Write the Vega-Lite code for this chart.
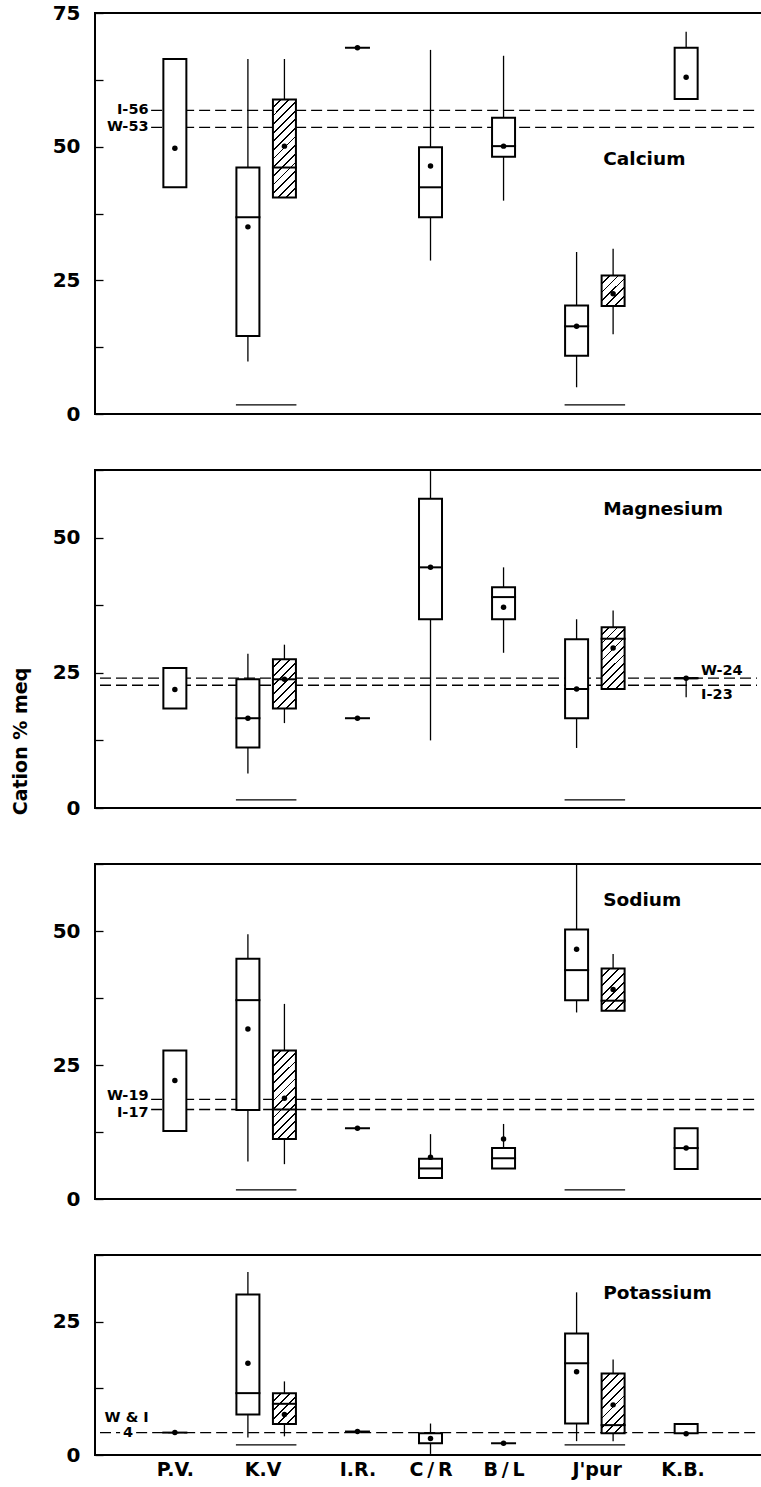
{
"$schema": "https://vega.github.io/schema/vega-lite/v6.json",
"padding": {"left": 10, "top": 2, "right": 0, "bottom": 0},
"background": "white",
"spacing": 34,
"resolve": {"scale": {"x": "independent", "y": "independent"}},
"config": {
  "view": {"stroke": "black", "strokeWidth": 2},
  "axis": {"labelFont": "DejaVu Sans", "labelFontWeight": "bold", "labelColor": "black", "tickColor": "black", "domain": false, "grid": false, "titleFont": "DejaVu Sans", "titleFontWeight": "bold", "titleColor": "black"},
  "text": {"font": "DejaVu Sans", "fontWeight": "bold", "color": "black"}
},
"datasets": {
  "boxes": [
    {"ion":"Calcium","site":"P.V.","slot":0,"grp":"p","lo":null,"q1":42.4,"med":null,"q3":66.4,"hi":null,"mean":49.7},
    {"ion":"Calcium","site":"K.V","slot":2,"grp":"p","lo":9.8,"q1":14.6,"med":36.8,"q3":46.1,"hi":66.4,"mean":35.0},
    {"ion":"Calcium","site":"K.V","slot":3,"grp":"h","lo":null,"q1":40.5,"med":46.1,"q3":58.8,"hi":66.4,"mean":50.1},
    {"ion":"Calcium","site":"I.R.","slot":5,"grp":"p","lo":null,"q1":null,"med":68.5,"q3":null,"hi":null,"mean":68.5},
    {"ion":"Calcium","site":"C/R","slot":7,"grp":"p","lo":28.7,"q1":36.8,"med":42.4,"q3":49.9,"hi":68.1,"mean":46.4},
    {"ion":"Calcium","site":"B/L","slot":9,"grp":"p","lo":39.9,"q1":48.1,"med":50.1,"q3":55.4,"hi":67.0,"mean":50.1},
    {"ion":"Calcium","site":"J'pur","slot":11,"grp":"p","lo":5.0,"q1":10.9,"med":16.4,"q3":20.3,"hi":30.3,"mean":16.4},
    {"ion":"Calcium","site":"J'pur","slot":12,"grp":"h","lo":14.9,"q1":20.2,"med":null,"q3":25.9,"hi":30.9,"mean":22.5},
    {"ion":"Calcium","site":"K.B.","slot":14,"grp":"p","lo":null,"q1":58.9,"med":null,"q3":68.5,"hi":71.5,"mean":63.0},

    {"ion":"Magnesium","site":"P.V.","slot":0,"grp":"p","lo":null,"q1":18.4,"med":null,"q3":25.9,"hi":null,"mean":21.9},
    {"ion":"Magnesium","site":"K.V","slot":2,"grp":"p","lo":6.4,"q1":11.2,"med":16.6,"q3":23.8,"hi":28.5,"mean":16.6},
    {"ion":"Magnesium","site":"K.V","slot":3,"grp":"h","lo":15.7,"q1":18.4,"med":23.8,"q3":27.5,"hi":30.2,"mean":23.8},
    {"ion":"Magnesium","site":"I.R.","slot":5,"grp":"p","lo":null,"q1":null,"med":16.6,"q3":null,"hi":null,"mean":16.6},
    {"ion":"Magnesium","site":"C/R","slot":7,"grp":"p","lo":12.5,"q1":34.9,"med":44.5,"q3":57.2,"hi":62.3,"mean":44.5},
    {"ion":"Magnesium","site":"B/L","slot":9,"grp":"p","lo":28.7,"q1":34.9,"med":39.0,"q3":40.8,"hi":44.5,"mean":37.1},
    {"ion":"Magnesium","site":"J'pur","slot":11,"grp":"p","lo":11.1,"q1":16.6,"med":22.0,"q3":31.2,"hi":34.9,"mean":22.0},
    {"ion":"Magnesium","site":"J'pur","slot":12,"grp":"h","lo":null,"q1":22.0,"med":31.3,"q3":33.4,"hi":36.5,"mean":29.6},
    {"ion":"Magnesium","site":"K.B.","slot":14,"grp":"p","lo":20.5,"q1":24.0,"med":24.0,"q3":24.0,"hi":null,"mean":24.0},

    {"ion":"Sodium","site":"P.V.","slot":0,"grp":"p","lo":null,"q1":12.7,"med":null,"q3":27.7,"hi":null,"mean":22.1},
    {"ion":"Sodium","site":"K.V","slot":2,"grp":"p","lo":7.0,"q1":16.6,"med":37.1,"q3":44.8,"hi":49.4,"mean":31.7},
    {"ion":"Sodium","site":"K.V","slot":3,"grp":"h","lo":6.5,"q1":11.2,"med":16.7,"q3":27.7,"hi":36.4,"mean":18.8},
    {"ion":"Sodium","site":"I.R.","slot":5,"grp":"p","lo":null,"q1":null,"med":13.2,"q3":null,"hi":null,"mean":13.2},
    {"ion":"Sodium","site":"C/R","slot":7,"grp":"p","lo":null,"q1":3.9,"med":5.7,"q3":7.5,"hi":12.1,"mean":7.8},
    {"ion":"Sodium","site":"B/L","slot":9,"grp":"p","lo":null,"q1":5.7,"med":7.6,"q3":9.5,"hi":14.0,"mean":11.2},
    {"ion":"Sodium","site":"J'pur","slot":11,"grp":"p","lo":34.8,"q1":37.1,"med":42.7,"q3":50.3,"hi":62.5,"mean":46.6},
    {"ion":"Sodium","site":"J'pur","slot":12,"grp":"h","lo":null,"q1":35.1,"med":37.0,"q3":43.0,"hi":45.7,"mean":39.1},
    {"ion":"Sodium","site":"K.B.","slot":14,"grp":"p","lo":null,"q1":5.6,"med":9.5,"q3":13.2,"hi":null,"mean":9.5},

    {"ion":"Potassium","site":"P.V.","slot":0,"grp":"p","lo":null,"q1":null,"med":4.2,"q3":null,"hi":null,"mean":4.2},
    {"ion":"Potassium","site":"K.V","slot":2,"grp":"p","lo":3.3,"q1":7.6,"med":11.6,"q3":30.1,"hi":34.3,"mean":17.2},
    {"ion":"Potassium","site":"K.V","slot":3,"grp":"h","lo":3.5,"q1":5.8,"med":9.6,"q3":11.6,"hi":13.8,"mean":7.6},
    {"ion":"Potassium","site":"I.R.","slot":5,"grp":"p","lo":null,"q1":null,"med":4.4,"q3":null,"hi":null,"mean":4.4},
    {"ion":"Potassium","site":"C/R","slot":7,"grp":"p","lo":0.2,"q1":2.2,"med":null,"q3":4.1,"hi":5.9,"mean":3.1},
    {"ion":"Potassium","site":"B/L","slot":9,"grp":"p","lo":null,"q1":null,"med":2.2,"q3":null,"hi":null,"mean":2.2},
    {"ion":"Potassium","site":"J'pur","slot":11,"grp":"p","lo":2.6,"q1":5.9,"med":17.2,"q3":22.8,"hi":30.5,"mean":15.6},
    {"ion":"Potassium","site":"J'pur","slot":12,"grp":"h","lo":2.6,"q1":4.1,"med":5.6,"q3":15.3,"hi":17.9,"mean":9.4},
    {"ion":"Potassium","site":"K.B.","slot":14,"grp":"p","lo":null,"q1":4.1,"med":null,"q3":5.8,"hi":null,"mean":4.0}
  ],
  "refs": [
    {"ion":"Calcium","name":"I-56","value":56.8,"pos":"on"},
    {"ion":"Calcium","name":"W-53","value":53.6,"pos":"on"},
    {"ion":"Magnesium","name":"W-24","value":24.0,"pos":"above"},
    {"ion":"Magnesium","name":"I-23","value":22.7,"pos":"below"},
    {"ion":"Sodium","name":"W-19","value":18.6,"pos":"above"},
    {"ion":"Sodium","name":"I-17","value":16.7,"pos":"below"},
    {"ion":"Potassium","name":"4","value":4.2,"pos":"on"},
    {"ion":"Potassium","name":"W & I","value":4.2,"pos":"above"}
  ],
  "panels": [
    {"ion":"Calcium"},{"ion":"Magnesium"},{"ion":"Sodium"},{"ion":"Potassium"}
  ]
},
"vconcat": [
{
  "width": 667, "height": 401,
  "layer": [
    {"data":{"name":"refs"},"transform":[{"filter":"datum.ion==='Calcium'"}],
     "mark":{"type":"rule","strokeDash":[11,5],"strokeWidth":1.3,"color":"black"},
     "encoding":{"x":{"datum":-0.65,"type":"quantitative","scale":{"domain":[-2.05,15.94],"nice":false,"zero":false},"axis":null},"x2":{"datum":15.94},
       "y":{"field":"value","type":"quantitative","scale":{"domain":[0,75],"nice":false,"zero":false},
            "axis":{"values":[0,12.5,25,37.5,50,62.5,75],"labelExpr":"datum.value % 25 === 0 ? datum.label : ''","title":null,"tickSize":-8,"tickWidth":1.3,"labelFontSize":20,"labelPadding":23,"labelFlush":false,"labelOverlap":false}}}},
    {"data":{"name":"boxes"},"transform":[{"filter":"datum.ion==='Calcium' && datum.hi != null && datum.q3 != null"}],
     "mark":{"type":"rule","strokeWidth":1.3,"color":"black"},
     "encoding":{"x":{"field":"slot","type":"quantitative","axis":null},"y":{"field":"q3","type":"quantitative"},"y2":{"field":"hi"}}},
    {"data":{"name":"boxes"},"transform":[{"filter":"datum.ion==='Calcium' && datum.lo != null && datum.q1 != null"}],
     "mark":{"type":"rule","strokeWidth":1.3,"color":"black"},
     "encoding":{"x":{"field":"slot","type":"quantitative","axis":null},"y":{"field":"lo","type":"quantitative"},"y2":{"field":"q1"}}},
    {"data":{"name":"boxes"},"transform":[{"filter":"datum.ion==='Calcium' && datum.q1 != null"}],
     "mark":{"type":"bar","width":23,"stroke":"black","strokeWidth":2},
     "encoding":{"x":{"field":"slot","type":"quantitative","axis":null},"y":{"field":"q1","type":"quantitative"},"y2":{"field":"q3"},
       "fill":{"condition":[
         {"test":"datum.slot===3","value":{"gradient":"linear","x1":0,"y1":0,"x2":0.2753,"y2":1.1705,"stops":[
{"offset":0,"color":"#fff"},{"offset":0.0564,"color":"#fff"},{"offset":0.0564,"color":"#000"},{"offset":0.0714,"color":"#000"},
{"offset":0.0714,"color":"#fff"},{"offset":0.1279,"color":"#fff"},{"offset":0.1279,"color":"#000"},{"offset":0.1429,"color":"#000"},
{"offset":0.1429,"color":"#fff"},{"offset":0.1993,"color":"#fff"},{"offset":0.1993,"color":"#000"},{"offset":0.2143,"color":"#000"},
{"offset":0.2143,"color":"#fff"},{"offset":0.2707,"color":"#fff"},{"offset":0.2707,"color":"#000"},{"offset":0.2857,"color":"#000"},
{"offset":0.2857,"color":"#fff"},{"offset":0.3421,"color":"#fff"},{"offset":0.3421,"color":"#000"},{"offset":0.3571,"color":"#000"},
{"offset":0.3571,"color":"#fff"},{"offset":0.4136,"color":"#fff"},{"offset":0.4136,"color":"#000"},{"offset":0.4286,"color":"#000"},
{"offset":0.4286,"color":"#fff"},{"offset":0.485,"color":"#fff"},{"offset":0.485,"color":"#000"},{"offset":0.5,"color":"#000"},
{"offset":0.5,"color":"#fff"},{"offset":0.5564,"color":"#fff"},{"offset":0.5564,"color":"#000"},{"offset":0.5714,"color":"#000"},
{"offset":0.5714,"color":"#fff"},{"offset":0.6279,"color":"#fff"},{"offset":0.6279,"color":"#000"},{"offset":0.6429,"color":"#000"},
{"offset":0.6429,"color":"#fff"},{"offset":0.6993,"color":"#fff"},{"offset":0.6993,"color":"#000"},{"offset":0.7143,"color":"#000"},
{"offset":0.7143,"color":"#fff"},{"offset":0.7707,"color":"#fff"},{"offset":0.7707,"color":"#000"},{"offset":0.7857,"color":"#000"},
{"offset":0.7857,"color":"#fff"},{"offset":0.8421,"color":"#fff"},{"offset":0.8421,"color":"#000"},{"offset":0.8571,"color":"#000"},
{"offset":0.8571,"color":"#fff"},{"offset":0.9136,"color":"#fff"},{"offset":0.9136,"color":"#000"},{"offset":0.9286,"color":"#000"},
{"offset":0.9286,"color":"#fff"},{"offset":0.985,"color":"#fff"},{"offset":0.985,"color":"#000"},{"offset":1,"color":"#000"}]}},
         {"test":"datum.slot===12","value":{"gradient":"linear","x1":0,"y1":0,"x2":0.8432,"y2":1.1182,"stops":[
{"offset":0,"color":"#fff"},{"offset":0.1317,"color":"#fff"},{"offset":0.1317,"color":"#000"},{"offset":0.1667,"color":"#000"},
{"offset":0.1667,"color":"#fff"},{"offset":0.2983,"color":"#fff"},{"offset":0.2983,"color":"#000"},{"offset":0.3333,"color":"#000"},
{"offset":0.3333,"color":"#fff"},{"offset":0.465,"color":"#fff"},{"offset":0.465,"color":"#000"},{"offset":0.5,"color":"#000"},
{"offset":0.5,"color":"#fff"},{"offset":0.6317,"color":"#fff"},{"offset":0.6317,"color":"#000"},{"offset":0.6667,"color":"#000"},
{"offset":0.6667,"color":"#fff"},{"offset":0.7983,"color":"#fff"},{"offset":0.7983,"color":"#000"},{"offset":0.8333,"color":"#000"},
{"offset":0.8333,"color":"#fff"},{"offset":0.965,"color":"#fff"},{"offset":0.965,"color":"#000"},{"offset":1,"color":"#000"}]}}],
         "value":"white"}}},
    {"data":{"name":"boxes"},"transform":[{"filter":"datum.ion==='Calcium' && datum.med != null"}],
     "mark":{"type":"rule","strokeWidth":2,"color":"black","xOffset":-12.5,"x2Offset":12.5},
     "encoding":{"x":{"field":"slot","type":"quantitative","axis":null},"x2":{"field":"slot"},"y":{"field":"med","type":"quantitative"}}},
    {"data":{"name":"boxes"},"transform":[{"filter":"datum.ion==='Calcium' && datum.mean != null"}],
     "mark":{"type":"point","filled":true,"color":"black","size":30,"opacity":1},
     "encoding":{"x":{"field":"slot","type":"quantitative","axis":null},"y":{"field":"mean","type":"quantitative"}}},
    {"data":{"name":"boxes"},"transform":[{"filter":"datum.ion==='Calcium'"},{"aggregate":[{"op":"min","field":"slot","as":"s0"},{"op":"max","field":"slot","as":"s1"}],"groupby":["site"]},{"filter":"datum.s1 > datum.s0"}],
     "mark":{"type":"rule","strokeWidth":1.4,"color":"black","xOffset":-12,"x2Offset":12},
     "encoding":{"x":{"field":"s0","type":"quantitative","axis":null},"x2":{"field":"s1"},"y":{"datum":1.7}}},
    {"data":{"name":"refs"},"transform":[{"filter":"datum.ion==='Calcium'"}],
     "mark":{"type":"text","align":"right","baseline":"middle","fontSize":14.5},
     "encoding":{"x":{"datum":-0.72,"axis":null},"y":{"field":"value","type":"quantitative"},"text":{"field":"name"}}},
    {"data":{"name":"panels"},"transform":[{"filter":"datum.ion==='Calcium'"}],
     "mark":{"type":"text","align":"left","baseline":"middle","fontSize":18.5},
     "encoding":{"x":{"datum":11.73,"axis":null},"y":{"datum":47.7},"text":{"field":"ion"}}}
  ]
},
{
  "width": 667, "height": 338,
  "layer": [
    {"data":{"name":"refs"},"transform":[{"filter":"datum.ion==='Magnesium'"}],
     "mark":{"type":"rule","strokeDash":[11,5],"strokeWidth":1.3,"color":"black"},
     "encoding":{"x":{"datum":-2.05,"type":"quantitative","scale":{"domain":[-2.05,15.94],"nice":false,"zero":false},"axis":null},"x2":{"datum":15.94},
       "y":{"field":"value","type":"quantitative","scale":{"domain":[0,62.5],"nice":false,"zero":false},
            "axis":{"values":[0,12.5,25,37.5,50,62.5],"labelExpr":"datum.value % 25 === 0 ? datum.label : ''","title":"Cation % meq","titleFontSize":19,"titleX":-75,"titleY":271,"titleAngle":270,"titleAlign":"center","titleBaseline":"middle","tickSize":-8,"tickWidth":1.3,"labelFontSize":20,"labelPadding":23,"labelFlush":false,"labelOverlap":false}}}},
    {"data":{"name":"boxes"},"transform":[{"filter":"datum.ion==='Magnesium' && datum.hi != null && datum.q3 != null"}],
     "mark":{"type":"rule","strokeWidth":1.3,"color":"black"},
     "encoding":{"x":{"field":"slot","type":"quantitative","axis":null},"y":{"field":"q3","type":"quantitative"},"y2":{"field":"hi"}}},
    {"data":{"name":"boxes"},"transform":[{"filter":"datum.ion==='Magnesium' && datum.lo != null && datum.q1 != null"}],
     "mark":{"type":"rule","strokeWidth":1.3,"color":"black"},
     "encoding":{"x":{"field":"slot","type":"quantitative","axis":null},"y":{"field":"lo","type":"quantitative"},"y2":{"field":"q1"}}},
    {"data":{"name":"boxes"},"transform":[{"filter":"datum.ion==='Magnesium' && datum.q1 != null"}],
     "mark":{"type":"bar","width":23,"stroke":"black","strokeWidth":2},
     "encoding":{"x":{"field":"slot","type":"quantitative","axis":null},"y":{"field":"q1","type":"quantitative"},"y2":{"field":"q3"},
       "fill":{"condition":[
         {"test":"datum.slot===3","value":{"gradient":"linear","x1":0,"y1":0,"x2":0.5597,"y2":1.2046,"stops":[
{"offset":0,"color":"#fff"},{"offset":0.0988,"color":"#fff"},{"offset":0.0988,"color":"#000"},{"offset":0.125,"color":"#000"},
{"offset":0.125,"color":"#fff"},{"offset":0.2238,"color":"#fff"},{"offset":0.2238,"color":"#000"},{"offset":0.25,"color":"#000"},
{"offset":0.25,"color":"#fff"},{"offset":0.3488,"color":"#fff"},{"offset":0.3488,"color":"#000"},{"offset":0.375,"color":"#000"},
{"offset":0.375,"color":"#fff"},{"offset":0.4738,"color":"#fff"},{"offset":0.4738,"color":"#000"},{"offset":0.5,"color":"#000"},
{"offset":0.5,"color":"#fff"},{"offset":0.5988,"color":"#fff"},{"offset":0.5988,"color":"#000"},{"offset":0.625,"color":"#000"},
{"offset":0.625,"color":"#fff"},{"offset":0.7238,"color":"#fff"},{"offset":0.7238,"color":"#000"},{"offset":0.75,"color":"#000"},
{"offset":0.75,"color":"#fff"},{"offset":0.8488,"color":"#fff"},{"offset":0.8488,"color":"#000"},{"offset":0.875,"color":"#000"},
{"offset":0.875,"color":"#fff"},{"offset":0.9738,"color":"#fff"},{"offset":0.9738,"color":"#000"},{"offset":1,"color":"#000"}]}},
         {"test":"datum.slot===12","value":{"gradient":"linear","x1":0,"y1":0,"x2":0.4471,"y2":1.2052,"stops":[
{"offset":0,"color":"#fff"},{"offset":0.079,"color":"#fff"},{"offset":0.079,"color":"#000"},{"offset":0.1,"color":"#000"},
{"offset":0.1,"color":"#fff"},{"offset":0.179,"color":"#fff"},{"offset":0.179,"color":"#000"},{"offset":0.2,"color":"#000"},
{"offset":0.2,"color":"#fff"},{"offset":0.279,"color":"#fff"},{"offset":0.279,"color":"#000"},{"offset":0.3,"color":"#000"},
{"offset":0.3,"color":"#fff"},{"offset":0.379,"color":"#fff"},{"offset":0.379,"color":"#000"},{"offset":0.4,"color":"#000"},
{"offset":0.4,"color":"#fff"},{"offset":0.479,"color":"#fff"},{"offset":0.479,"color":"#000"},{"offset":0.5,"color":"#000"},
{"offset":0.5,"color":"#fff"},{"offset":0.579,"color":"#fff"},{"offset":0.579,"color":"#000"},{"offset":0.6,"color":"#000"},
{"offset":0.6,"color":"#fff"},{"offset":0.679,"color":"#fff"},{"offset":0.679,"color":"#000"},{"offset":0.7,"color":"#000"},
{"offset":0.7,"color":"#fff"},{"offset":0.779,"color":"#fff"},{"offset":0.779,"color":"#000"},{"offset":0.8,"color":"#000"},
{"offset":0.8,"color":"#fff"},{"offset":0.879,"color":"#fff"},{"offset":0.879,"color":"#000"},{"offset":0.9,"color":"#000"},
{"offset":0.9,"color":"#fff"},{"offset":0.979,"color":"#fff"},{"offset":0.979,"color":"#000"},{"offset":1,"color":"#000"}]}}],
         "value":"white"}}},
    {"data":{"name":"boxes"},"transform":[{"filter":"datum.ion==='Magnesium' && datum.med != null"}],
     "mark":{"type":"rule","strokeWidth":2,"color":"black","xOffset":-12.5,"x2Offset":12.5},
     "encoding":{"x":{"field":"slot","type":"quantitative","axis":null},"x2":{"field":"slot"},"y":{"field":"med","type":"quantitative"}}},
    {"data":{"name":"boxes"},"transform":[{"filter":"datum.ion==='Magnesium' && datum.mean != null"}],
     "mark":{"type":"point","filled":true,"color":"black","size":30,"opacity":1},
     "encoding":{"x":{"field":"slot","type":"quantitative","axis":null},"y":{"field":"mean","type":"quantitative"}}},
    {"data":{"name":"boxes"},"transform":[{"filter":"datum.ion==='Magnesium'"},{"aggregate":[{"op":"min","field":"slot","as":"s0"},{"op":"max","field":"slot","as":"s1"}],"groupby":["site"]},{"filter":"datum.s1 > datum.s0"}],
     "mark":{"type":"rule","strokeWidth":1.4,"color":"black","xOffset":-12,"x2Offset":12},
     "encoding":{"x":{"field":"s0","type":"quantitative","axis":null},"x2":{"field":"s1"},"y":{"datum":1.5}}},
    {"data":{"name":"refs"},"transform":[{"filter":"datum.ion==='Magnesium' && datum.pos==='above'"}],
     "mark":{"type":"text","align":"left","baseline":"bottom","fontSize":14.5},
     "encoding":{"x":{"datum":14.41,"axis":null},"y":{"field":"value","type":"quantitative"},"text":{"field":"name"}}},
    {"data":{"name":"refs"},"transform":[{"filter":"datum.ion==='Magnesium' && datum.pos==='below'"}],
     "mark":{"type":"text","align":"left","baseline":"top","fontSize":14.5,"dy":3},
     "encoding":{"x":{"datum":14.41,"axis":null},"y":{"field":"value","type":"quantitative"},"text":{"field":"name"}}},
    {"data":{"name":"panels"},"transform":[{"filter":"datum.ion==='Magnesium'"}],
     "mark":{"type":"text","align":"left","baseline":"middle","fontSize":18.5},
     "encoding":{"x":{"datum":11.73,"axis":null},"y":{"datum":55.3},"text":{"field":"ion"}}}
  ]
},
{
  "width": 667, "height": 335,
  "layer": [
    {"data":{"name":"refs"},"transform":[{"filter":"datum.ion==='Sodium'"}],
     "mark":{"type":"rule","strokeDash":[11,5],"strokeWidth":1.3,"color":"black"},
     "encoding":{"x":{"datum":-0.65,"type":"quantitative","scale":{"domain":[-2.05,15.94],"nice":false,"zero":false},"axis":null},"x2":{"datum":15.94},
       "y":{"field":"value","type":"quantitative","scale":{"domain":[0,62.5],"nice":false,"zero":false},
            "axis":{"values":[0,12.5,25,37.5,50,62.5],"labelExpr":"datum.value % 25 === 0 ? datum.label : ''","title":null,"tickSize":-8,"tickWidth":1.3,"labelFontSize":20,"labelPadding":23,"labelFlush":false,"labelOverlap":false}}}},
    {"data":{"name":"boxes"},"transform":[{"filter":"datum.ion==='Sodium' && datum.hi != null && datum.q3 != null"}],
     "mark":{"type":"rule","strokeWidth":1.3,"color":"black"},
     "encoding":{"x":{"field":"slot","type":"quantitative","axis":null},"y":{"field":"q3","type":"quantitative"},"y2":{"field":"hi"}}},
    {"data":{"name":"boxes"},"transform":[{"filter":"datum.ion==='Sodium' && datum.lo != null && datum.q1 != null"}],
     "mark":{"type":"rule","strokeWidth":1.3,"color":"black"},
     "encoding":{"x":{"field":"slot","type":"quantitative","axis":null},"y":{"field":"lo","type":"quantitative"},"y2":{"field":"q1"}}},
    {"data":{"name":"boxes"},"transform":[{"filter":"datum.ion==='Sodium' && datum.q1 != null"}],
     "mark":{"type":"bar","width":23,"stroke":"black","strokeWidth":2},
     "encoding":{"x":{"field":"slot","type":"quantitative","axis":null},"y":{"field":"q1","type":"quantitative"},"y2":{"field":"q3"},
       "fill":{"condition":[
         {"test":"datum.slot===3","value":{"gradient":"linear","x1":0,"y1":0,"x2":0.3048,"y2":1.1796,"stops":[
{"offset":0,"color":"#fff"},{"offset":0.0608,"color":"#fff"},{"offset":0.0608,"color":"#000"},{"offset":0.0769,"color":"#000"},
{"offset":0.0769,"color":"#fff"},{"offset":0.1377,"color":"#fff"},{"offset":0.1377,"color":"#000"},{"offset":0.1538,"color":"#000"},
{"offset":0.1538,"color":"#fff"},{"offset":0.2146,"color":"#fff"},{"offset":0.2146,"color":"#000"},{"offset":0.2308,"color":"#000"},
{"offset":0.2308,"color":"#fff"},{"offset":0.2915,"color":"#fff"},{"offset":0.2915,"color":"#000"},{"offset":0.3077,"color":"#000"},
{"offset":0.3077,"color":"#fff"},{"offset":0.3685,"color":"#fff"},{"offset":0.3685,"color":"#000"},{"offset":0.3846,"color":"#000"},
{"offset":0.3846,"color":"#fff"},{"offset":0.4454,"color":"#fff"},{"offset":0.4454,"color":"#000"},{"offset":0.4615,"color":"#000"},
{"offset":0.4615,"color":"#fff"},{"offset":0.5223,"color":"#fff"},{"offset":0.5223,"color":"#000"},{"offset":0.5385,"color":"#000"},
{"offset":0.5385,"color":"#fff"},{"offset":0.5992,"color":"#fff"},{"offset":0.5992,"color":"#000"},{"offset":0.6154,"color":"#000"},
{"offset":0.6154,"color":"#fff"},{"offset":0.6762,"color":"#fff"},{"offset":0.6762,"color":"#000"},{"offset":0.6923,"color":"#000"},
{"offset":0.6923,"color":"#fff"},{"offset":0.7531,"color":"#fff"},{"offset":0.7531,"color":"#000"},{"offset":0.7692,"color":"#000"},
{"offset":0.7692,"color":"#fff"},{"offset":0.83,"color":"#fff"},{"offset":0.83,"color":"#000"},{"offset":0.8462,"color":"#000"},
{"offset":0.8462,"color":"#fff"},{"offset":0.9069,"color":"#fff"},{"offset":0.9069,"color":"#000"},{"offset":0.9231,"color":"#000"},
{"offset":0.9231,"color":"#fff"},{"offset":0.9838,"color":"#fff"},{"offset":0.9838,"color":"#000"},{"offset":1,"color":"#000"}]}},
         {"test":"datum.slot===12","value":{"gradient":"linear","x1":0,"y1":0,"x2":0.6437,"y2":1.1923,"stops":[
{"offset":0,"color":"#fff"},{"offset":0.1129,"color":"#fff"},{"offset":0.1129,"color":"#000"},{"offset":0.1429,"color":"#000"},
{"offset":0.1429,"color":"#fff"},{"offset":0.2557,"color":"#fff"},{"offset":0.2557,"color":"#000"},{"offset":0.2857,"color":"#000"},
{"offset":0.2857,"color":"#fff"},{"offset":0.3986,"color":"#fff"},{"offset":0.3986,"color":"#000"},{"offset":0.4286,"color":"#000"},
{"offset":0.4286,"color":"#fff"},{"offset":0.5414,"color":"#fff"},{"offset":0.5414,"color":"#000"},{"offset":0.5714,"color":"#000"},
{"offset":0.5714,"color":"#fff"},{"offset":0.6843,"color":"#fff"},{"offset":0.6843,"color":"#000"},{"offset":0.7143,"color":"#000"},
{"offset":0.7143,"color":"#fff"},{"offset":0.8271,"color":"#fff"},{"offset":0.8271,"color":"#000"},{"offset":0.8571,"color":"#000"},
{"offset":0.8571,"color":"#fff"},{"offset":0.97,"color":"#fff"},{"offset":0.97,"color":"#000"},{"offset":1,"color":"#000"}]}}],
         "value":"white"}}},
    {"data":{"name":"boxes"},"transform":[{"filter":"datum.ion==='Sodium' && datum.med != null"}],
     "mark":{"type":"rule","strokeWidth":2,"color":"black","xOffset":-12.5,"x2Offset":12.5},
     "encoding":{"x":{"field":"slot","type":"quantitative","axis":null},"x2":{"field":"slot"},"y":{"field":"med","type":"quantitative"}}},
    {"data":{"name":"boxes"},"transform":[{"filter":"datum.ion==='Sodium' && datum.mean != null"}],
     "mark":{"type":"point","filled":true,"color":"black","size":30,"opacity":1},
     "encoding":{"x":{"field":"slot","type":"quantitative","axis":null},"y":{"field":"mean","type":"quantitative"}}},
    {"data":{"name":"boxes"},"transform":[{"filter":"datum.ion==='Sodium'"},{"aggregate":[{"op":"min","field":"slot","as":"s0"},{"op":"max","field":"slot","as":"s1"}],"groupby":["site"]},{"filter":"datum.s1 > datum.s0"}],
     "mark":{"type":"rule","strokeWidth":1.4,"color":"black","xOffset":-12,"x2Offset":12},
     "encoding":{"x":{"field":"s0","type":"quantitative","axis":null},"x2":{"field":"s1"},"y":{"datum":1.7}}},
    {"data":{"name":"refs"},"transform":[{"filter":"datum.ion==='Sodium' && datum.pos==='above'"}],
     "mark":{"type":"text","align":"right","baseline":"middle","fontSize":14.5,"dy":-3},
     "encoding":{"x":{"datum":-0.72,"axis":null},"y":{"field":"value","type":"quantitative"},"text":{"field":"name"}}},
    {"data":{"name":"refs"},"transform":[{"filter":"datum.ion==='Sodium' && datum.pos==='below'"}],
     "mark":{"type":"text","align":"right","baseline":"middle","fontSize":14.5,"dy":4},
     "encoding":{"x":{"datum":-0.72,"axis":null},"y":{"field":"value","type":"quantitative"},"text":{"field":"name"}}},
    {"data":{"name":"panels"},"transform":[{"filter":"datum.ion==='Sodium'"}],
     "mark":{"type":"text","align":"left","baseline":"middle","fontSize":18.5},
     "encoding":{"x":{"datum":11.73,"axis":null},"y":{"datum":55.8},"text":{"field":"ion"}}}
  ]
},
{
  "width": 667, "height": 200,
  "layer": [
    {"data":{"name":"refs"},"transform":[{"filter":"datum.ion==='Potassium' && datum.pos==='on'"}],
     "mark":{"type":"rule","strokeDash":[11,5],"strokeWidth":1.3,"color":"black"},
     "encoding":{"x":{"datum":-2.05,"type":"quantitative","scale":{"domain":[-2.05,15.94],"nice":false,"zero":false},
            "axis":{"values":[0,2.4,5,7,9,11.55,13.9],"labelExpr":"datum.value < 1 ? 'P.V.' : datum.value < 4 ? 'K.V' : datum.value < 6 ? 'I.R.' : datum.value < 8 ? 'C\u2009/\u2009R' : datum.value < 10 ? 'B\u2009/\u2009L' : datum.value < 13 ? \"J'pur\" : 'K.B.'","title":null,"ticks":false,"labelFontSize":19,"labelPadding":5,"labelFlush":false,"labelOverlap":false}},
       "x2":{"datum":-1.5},
       "y":{"field":"value","type":"quantitative","scale":{"domain":[0,37.5],"nice":false,"zero":false},
            "axis":{"values":[0,12.5,25,37.5],"labelExpr":"datum.value % 25 === 0 ? datum.label : ''","title":null,"tickSize":-8,"tickWidth":1.3,"labelFontSize":20,"labelPadding":23,"labelFlush":false,"labelOverlap":false}}}},
    {"data":{"name":"refs"},"transform":[{"filter":"datum.ion==='Potassium' && datum.pos==='on'"}],
     "mark":{"type":"rule","strokeDash":[11,5],"strokeWidth":1.3,"color":"black"},
     "encoding":{"x":{"datum":-1.06},"x2":{"datum":15.94},"y":{"field":"value","type":"quantitative"}}},
    {"data":{"name":"boxes"},"transform":[{"filter":"datum.ion==='Potassium' && datum.hi != null && datum.q3 != null"}],
     "mark":{"type":"rule","strokeWidth":1.3,"color":"black"},
     "encoding":{"x":{"field":"slot","type":"quantitative"},"y":{"field":"q3","type":"quantitative"},"y2":{"field":"hi"}}},
    {"data":{"name":"boxes"},"transform":[{"filter":"datum.ion==='Potassium' && datum.lo != null && datum.q1 != null"}],
     "mark":{"type":"rule","strokeWidth":1.3,"color":"black"},
     "encoding":{"x":{"field":"slot","type":"quantitative"},"y":{"field":"lo","type":"quantitative"},"y2":{"field":"q1"}}},
    {"data":{"name":"boxes"},"transform":[{"filter":"datum.ion==='Potassium' && datum.q1 != null"}],
     "mark":{"type":"bar","width":23,"stroke":"black","strokeWidth":2},
     "encoding":{"x":{"field":"slot","type":"quantitative"},"y":{"field":"q1","type":"quantitative"},"y2":{"field":"q3"},
       "fill":{"condition":[
         {"test":"datum.slot===3","value":{"gradient":"linear","x1":0,"y1":0,"x2":0.8355,"y2":1.1225,"stops":[
{"offset":0,"color":"#fff"},{"offset":0.1317,"color":"#fff"},{"offset":0.1317,"color":"#000"},{"offset":0.1667,"color":"#000"},
{"offset":0.1667,"color":"#fff"},{"offset":0.2983,"color":"#fff"},{"offset":0.2983,"color":"#000"},{"offset":0.3333,"color":"#000"},
{"offset":0.3333,"color":"#fff"},{"offset":0.465,"color":"#fff"},{"offset":0.465,"color":"#000"},{"offset":0.5,"color":"#000"},
{"offset":0.5,"color":"#fff"},{"offset":0.6317,"color":"#fff"},{"offset":0.6317,"color":"#000"},{"offset":0.6667,"color":"#000"},
{"offset":0.6667,"color":"#fff"},{"offset":0.7983,"color":"#fff"},{"offset":0.7983,"color":"#000"},{"offset":0.8333,"color":"#000"},
{"offset":0.8333,"color":"#fff"},{"offset":0.965,"color":"#fff"},{"offset":0.965,"color":"#000"},{"offset":1,"color":"#000"}]}},
         {"test":"datum.slot===12","value":{"gradient":"linear","x1":0,"y1":0,"x2":0.4648,"y2":1.2063,"stops":[
{"offset":0,"color":"#fff"},{"offset":0.0878,"color":"#fff"},{"offset":0.0878,"color":"#000"},{"offset":0.1111,"color":"#000"},
{"offset":0.1111,"color":"#fff"},{"offset":0.1989,"color":"#fff"},{"offset":0.1989,"color":"#000"},{"offset":0.2222,"color":"#000"},
{"offset":0.2222,"color":"#fff"},{"offset":0.31,"color":"#fff"},{"offset":0.31,"color":"#000"},{"offset":0.3333,"color":"#000"},
{"offset":0.3333,"color":"#fff"},{"offset":0.4211,"color":"#fff"},{"offset":0.4211,"color":"#000"},{"offset":0.4444,"color":"#000"},
{"offset":0.4444,"color":"#fff"},{"offset":0.5322,"color":"#fff"},{"offset":0.5322,"color":"#000"},{"offset":0.5556,"color":"#000"},
{"offset":0.5556,"color":"#fff"},{"offset":0.6433,"color":"#fff"},{"offset":0.6433,"color":"#000"},{"offset":0.6667,"color":"#000"},
{"offset":0.6667,"color":"#fff"},{"offset":0.7544,"color":"#fff"},{"offset":0.7544,"color":"#000"},{"offset":0.7778,"color":"#000"},
{"offset":0.7778,"color":"#fff"},{"offset":0.8656,"color":"#fff"},{"offset":0.8656,"color":"#000"},{"offset":0.8889,"color":"#000"},
{"offset":0.8889,"color":"#fff"},{"offset":0.9767,"color":"#fff"},{"offset":0.9767,"color":"#000"},{"offset":1,"color":"#000"}]}}],
         "value":"white"}}},
    {"data":{"name":"boxes"},"transform":[{"filter":"datum.ion==='Potassium' && datum.med != null"}],
     "mark":{"type":"rule","strokeWidth":2,"color":"black","xOffset":-12.5,"x2Offset":12.5},
     "encoding":{"x":{"field":"slot","type":"quantitative"},"x2":{"field":"slot"},"y":{"field":"med","type":"quantitative"}}},
    {"data":{"name":"boxes"},"transform":[{"filter":"datum.ion==='Potassium' && datum.mean != null"}],
     "mark":{"type":"point","filled":true,"color":"black","size":30,"opacity":1},
     "encoding":{"x":{"field":"slot","type":"quantitative"},"y":{"field":"mean","type":"quantitative"}}},
    {"data":{"name":"boxes"},"transform":[{"filter":"datum.ion==='Potassium'"},{"aggregate":[{"op":"min","field":"slot","as":"s0"},{"op":"max","field":"slot","as":"s1"}],"groupby":["site"]},{"filter":"datum.s1 > datum.s0"}],
     "mark":{"type":"rule","strokeWidth":1.4,"color":"black","xOffset":-12,"x2Offset":12},
     "encoding":{"x":{"field":"s0","type":"quantitative"},"x2":{"field":"s1"},"y":{"datum":1.9}}},
    {"data":{"name":"refs"},"transform":[{"filter":"datum.ion==='Potassium' && datum.pos==='on'"}],
     "mark":{"type":"text","align":"center","baseline":"middle","fontSize":14.5},
     "encoding":{"x":{"datum":-1.28},"y":{"field":"value","type":"quantitative"},"text":{"field":"name"}}},
    {"data":{"name":"refs"},"transform":[{"filter":"datum.ion==='Potassium' && datum.pos==='above'"}],
     "mark":{"type":"text","align":"center","baseline":"middle","fontSize":14.5,"dy":-15},
     "encoding":{"x":{"datum":-1.32},"y":{"field":"value","type":"quantitative"},"text":{"field":"name"}}},
    {"data":{"name":"panels"},"transform":[{"filter":"datum.ion==='Potassium'"}],
     "mark":{"type":"text","align":"left","baseline":"middle","fontSize":18.5},
     "encoding":{"x":{"datum":11.73},"y":{"datum":30.4},"text":{"field":"ion"}}}
  ]
}
]
}
